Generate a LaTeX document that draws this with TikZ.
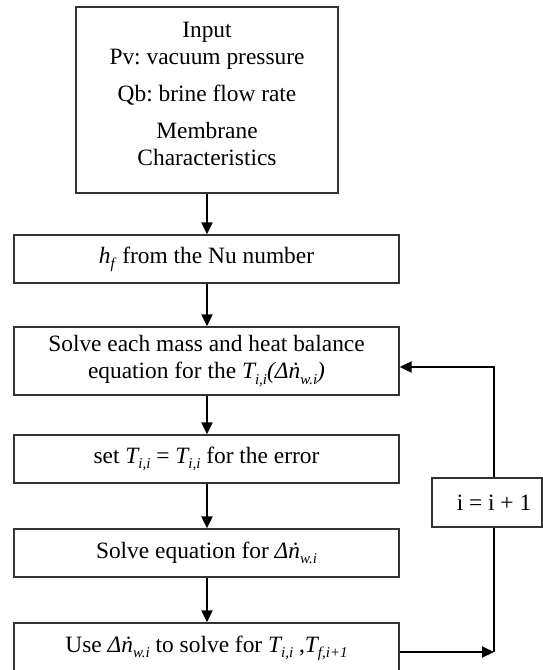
\documentclass[tikz,border=0pt]{standalone}
\usepackage{fontspec}
\setmainfont{Liberation Serif}
\usetikzlibrary{arrows.meta,calc}
\frenchspacing
\newcommand{\sbs}[1]{\raisebox{-0.22em}{\fontsize{15}{15}\selectfont #1}}
\tikzset{
  box/.style={draw=black!80, line width=1.3pt, align=center, inner sep=0pt,
    font=\fontsize{23.4}{27}\selectfont\frenchspacing},
  wbox/.style={box, minimum width=385, minimum height=48},
  arr/.style={draw=black, line width=2pt, -{Triangle[length=12pt,width=11pt]}},
  ln/.style={draw=black, line width=2pt}
}
\begin{document}
\begin{tikzpicture}[x=1pt,y=-1pt]
\useasboundingbox (0,0) rectangle (543,670);
\node[box, minimum width=262, minimum height=186, text depth=12pt] (input) at (207,100)
  {Input\\Pv: vacuum pressure\\[10pt]Qb: brine flow rate\\[10pt]Membrane\\Characteristics};
\node[wbox] (hf) at (206.5,259) {\textit{h}\sbs{\textit{f}} from the Nu number};
\node[wbox, minimum height=68] (solve) at (206.5,361)
  {Solve each mass and heat balance\\equation for the \textit{T\sbs{i,i}(Δṅ\sbs{w.i})}};
\node[wbox] (set) at (206.5,459) {set \textit{T\sbs{i,i}} = \textit{T\sbs{i,i}} for the error};
\node[wbox] (solveeq) at (206.5,553) {Solve equation for \textit{Δṅ\sbs{w.i}}};
\node[wbox, minimum height=50] (use) at (206.5,648)
  {Use \textit{Δṅ\sbs{w.i}} to solve for \textit{T\sbs{i,i}} ,\textit{T\sbs{f,i+1}}};
\node[box, minimum width=110, minimum height=49] (inc) at (487,502.5) {\kern14pt i = i + 1};
\coordinate (j) at (494,652);
\draw[arr] (input.south -| 207,0) -- (hf.north -| 207,0);
\draw[arr] (hf.south -| 207,0) -- (solve.north -| 207,0);
\draw[arr] (solve.south -| 207,0) -- (set.north -| 207,0);
\draw[arr] (set.south -| 207,0) -- (solveeq.north -| 207,0);
\draw[arr] (solveeq.south -| 207,0) -- (use.north -| 207,0);
\draw[arr] (use.east |- j) -- (j);
\draw[ln] (j) -- (j |- inc.south);
\draw[arr] (j |- inc.north) |- ([yshift=-6pt]solve.east);
\end{tikzpicture}
\end{document}
